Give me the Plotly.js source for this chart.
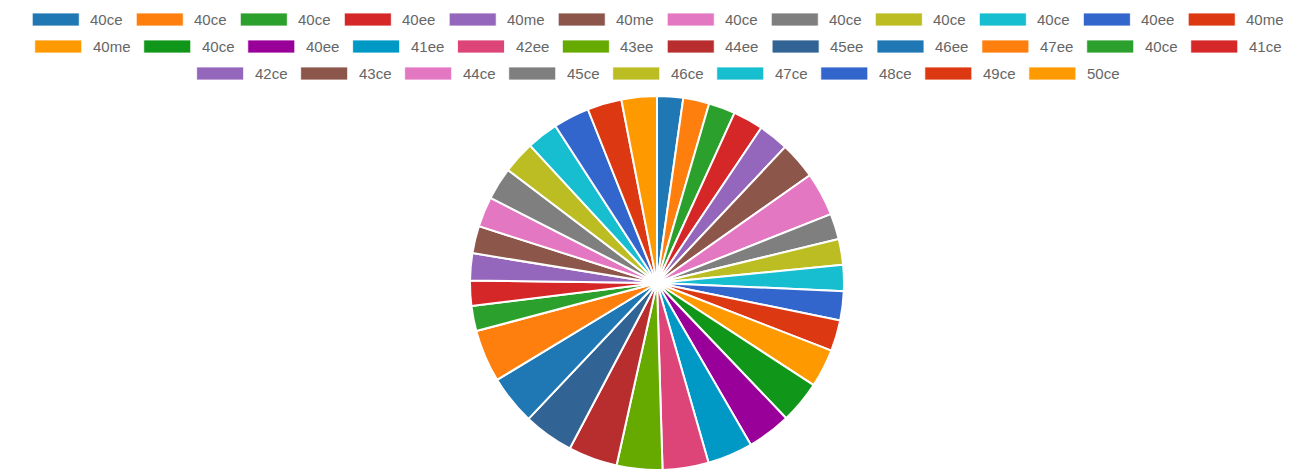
<!DOCTYPE html>
<html>
<head>
<meta charset="utf-8">
<script src="https://cdn.plot.ly/plotly-3.0.1.min.js"></script>
<style>
  html, body { margin: 0; padding: 0; background: #ffffff; }
  #chart { width: 1314px; height: 472px; }
</style>
</head>
<body>
<div id="chart"></div>
<script>
// ---- data ----
const labels = [
  "40ce", "40ce", "40ce", "40ee", "40me", "40me", "40ce", "40ce", "40ce", "40ce", "40ee", "40me",
  "40me", "40ce", "40ee", "41ee", "42ee", "43ee", "44ee", "45ee", "46ee", "47ee", "40ce", "41ce",
  "42ce", "43ce", "44ce", "45ce", "46ce", "47ce", "48ce", "49ce", "50ce"
];
const values = [
  8.1, 8.1, 8.3, 9.4, 9.4, 11.5, 13.6, 8.0, 8.0, 8.1, 9.1, 9.6,
  11.9, 13.2, 13.6, 14.1, 14.3, 14.2, 15.3, 15.6, 15.4, 16.3, 7.8, 7.9,
  8.4, 8.5, 9.4, 10.1, 10.1, 9.8, 11.2, 10.7, 11.0
];
const colors = [
  "#1f77b4", "#ff7f0e", "#2ca02c", "#d62728", "#9467bd", "#8c564b", "#e377c2", "#7f7f7f", "#bcbd22", "#17becf", "#3366cc", "#dc3912",
  "#ff9900", "#109618", "#990099", "#0099c6", "#dd4477", "#66aa00", "#b82e2e", "#316395", "#1f77b4", "#ff7f0e", "#2ca02c", "#d62728",
  "#9467bd", "#8c564b", "#e377c2", "#7f7f7f", "#bcbd22", "#17becf", "#3366cc", "#dc3912", "#ff9900"
];

// ---- layout constants ----
const W = 1314, H = 472;
const FONT_FAMILY = '"Liberation Sans", Arial, Helvetica, sans-serif';
const FONT_SIZE = 15;
const BOX_W = 47, BOX_H = 13, GAP = 10, PAD = 14.5;
const ROW_Y0 = 19.5, ROW_DY = 27, MAX_ROW_W = 1300, CENTER_X = 657.5;

// Plotly pie merges equal labels, so keep each slice unique with invisible zero-width suffixes
const sliceLabels = labels.map((t, i) => t + "\u200b".repeat(i));

// ---- Chart.js-like legend (wide swatches, centered rows) ----
const ctx = document.createElement("canvas").getContext("2d");
ctx.font = FONT_SIZE + "px " + FONT_FAMILY;
const items = labels.map((t, i) => ({ t, i, tw: ctx.measureText(t).width }));
items.forEach(it => { it.w = BOX_W + GAP + it.tw; });

const rows = [[]];
let cur = 0;
items.forEach(it => {
  const row = rows[rows.length - 1];
  const add = (row.length ? PAD : 0) + it.w;
  if (row.length && cur + add > MAX_ROW_W) { rows.push([it]); cur = it.w; }
  else { row.push(it); cur += add; }
});

const shapes = [];
const annotations = [];
rows.forEach((row, r) => {
  const rowW = row.reduce((s, it) => s + it.w, 0) + PAD * (row.length - 1);
  let x = CENTER_X - rowW / 2;
  const yc = ROW_Y0 + r * ROW_DY;
  row.forEach(it => {
    shapes.push({
      type: "rect", xref: "paper", yref: "paper",
      x0: x / W, x1: (x + BOX_W) / W,
      y0: 1 - (yc + BOX_H / 2) / H, y1: 1 - (yc - BOX_H / 2) / H,
      fillcolor: colors[it.i], line: { color: "rgba(255,255,255,0.8)", width: 1 }
    });
    annotations.push({
      xref: "paper", yref: "paper", x: (x + BOX_W + GAP) / W, y: 1 - yc / H,
      xanchor: "left", yanchor: "middle", showarrow: false, borderpad: 0,
      text: it.t, font: { family: FONT_FAMILY, size: FONT_SIZE, color: "#666666" }
    });
    x += it.w + PAD;
  });
});

// ---- pie ----
const pieTop = 96, pieBottom = 470;
const trace = {
  type: "pie",
  labels: sliceLabels,
  values: values,
  hovertext: labels,
  hoverinfo: "text+value",
  sort: false,
  direction: "clockwise",
  rotation: 0,
  textinfo: "none",
  showlegend: false,
  marker: { colors: colors, line: { color: "#ffffff", width: 2 } },
  domain: { x: [0, 1], y: [1 - pieBottom / H, 1 - pieTop / H] }
};

const layout = {
  width: W, height: H,
  margin: { l: 0, r: 0, t: 0, b: 0 },
  paper_bgcolor: "#ffffff",
  plot_bgcolor: "#ffffff",
  showlegend: false,
  font: { family: FONT_FAMILY, color: "#666666" },
  shapes: shapes,
  annotations: annotations
};

Plotly.newPlot("chart", [trace], layout, { displayModeBar: false, responsive: false });
</script>
</body>
</html>
